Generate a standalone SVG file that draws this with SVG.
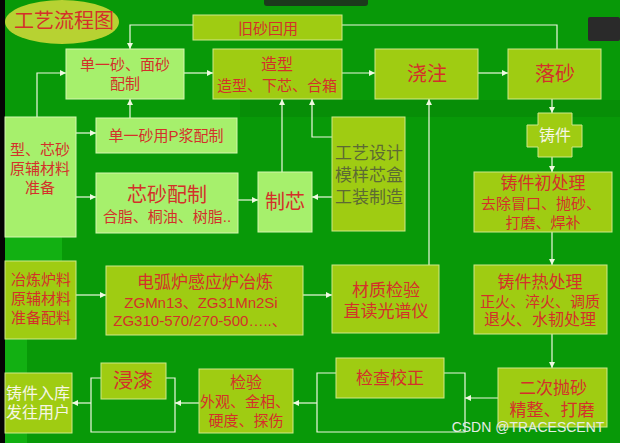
<svg xmlns="http://www.w3.org/2000/svg" width="620" height="443" viewBox="0 0 620 443">
<defs>
<marker id="ah" viewBox="0 0 6 6" refX="6" refY="3" markerWidth="6" markerHeight="6" markerUnits="userSpaceOnUse" orient="auto">
<path d="M0,0 L6,3 L0,6 z" fill="#eef8e0"/>
</marker>
</defs>
<style>
.lg{fill:#a6f06c;stroke:#d6f6b0;stroke-width:1}
.yg{fill:#9fcc12;stroke:#d0e88a;stroke-width:1}
text{font-family:"Liberation Sans","Noto Sans CJK SC",sans-serif;text-anchor:middle;dominant-baseline:central;fill:#d4302a}
.wt{fill:#f6f6e4}
.gy{fill:#5c6a34}
#connectors path{fill:none;stroke:#eef8e0;stroke-width:1.2}
.ar{marker-end:url(#ah)}
</style>
<rect x="0" y="0" width="620" height="443" fill="#089908"/>
<rect x="240" y="100" width="380" height="17" fill="#078e07"/>
<rect x="5" y="237" width="22" height="206" fill="#12b012"/>
<rect x="5" y="237" width="57" height="24" fill="#12b012"/>
<rect x="0" y="0" width="5" height="443" fill="#050505"/>
<rect x="264" y="-6" width="104" height="12" rx="3" fill="#1c3a1c"/>
<rect x="588" y="17" width="32" height="24" rx="2" fill="#2a2a2a"/>

<g id="title">
<ellipse cx="62" cy="22" rx="57" ry="22" fill="#b7d232"/>
<text x="64" y="21" font-size="20">工艺流程图</text>
</g>

<g id="connectors">
<path d="M557,49 V25 H130 V49" class="ar"/>
<path d="M37,117 V73 H66" class="ar"/>
<path d="M130,118 V99" class="ar"/>
<path d="M184,73 H213" class="ar"/>
<path d="M342,73 H375" class="ar"/>
<path d="M478,73 H508" class="ar"/>
<path d="M552,99 V113" class="ar"/>
<path d="M552,157 V172" class="ar"/>
<path d="M552,232 V265" class="ar"/>
<path d="M552,334 V368" class="ar"/>
<path d="M76,133 H96" class="ar"/>
<path d="M76,197 H96" class="ar"/>
<path d="M238,200 H258" class="ar"/>
<path d="M332,197 H312" class="ar"/>
<path d="M282,172 V99" class="ar"/>
<path d="M332,137 H312 V99" class="ar"/>
<path d="M429,265 V99" class="ar"/>
<path d="M76,295 H106" class="ar"/>
<path d="M303,295 H332" class="ar"/>
<path d="M498,398 H465" class="ar"/>
<path d="M444,373 H465 V432 H317 V373 H336"/>
<path d="M317,403 H293" class="ar"/>
<path d="M199,403 H175" class="ar"/>
<path d="M166,378 H175 V432 H91 V378 H101"/>
<path d="M91,403 H72" class="ar"/>
</g>

<g id="jiusha">
<rect class="yg" x="193" y="15" width="149" height="25"/>
<text x="268" y="28" font-size="15">旧砂回用</text>
</g>
<g id="danyisha">
<rect class="lg" x="66" y="49" width="118" height="50"/>
<text x="125" y="64" font-size="15">单一砂、面砂</text>
<text x="125" y="83" font-size="15">配制</text>
</g>
<g id="zaoxing">
<rect class="yg" x="213" y="49" width="129" height="50"/>
<text x="277" y="64" font-size="16">造型</text>
<text x="277" y="85" font-size="15">造型、下芯、合箱</text>
</g>
<g id="jiaozhu">
<rect class="yg" x="375" y="49" width="103" height="50"/>
<text x="427" y="74" font-size="20">浇注</text>
</g>
<g id="luosha">
<rect class="yg" x="508" y="49" width="93" height="50"/>
<text x="555" y="74" font-size="20">落砂</text>
</g>
<g id="zhujian">
<polygon class="yg" points="538,113 572,113 572,125 582,125 582,147 572,147 572,157 538,157 538,147 527,147 527,125 538,125"/>
<text class="wt" x="555" y="135" font-size="16">铸件</text>
</g>
<g id="yuanfu">
<rect class="lg" x="5" y="117" width="71" height="120"/>
<text x="40" y="149" font-size="15">型、芯砂</text>
<text x="40" y="168" font-size="15">原辅材料</text>
<text x="40" y="187" font-size="15">准备</text>
</g>
<g id="pjiang">
<rect class="lg" x="96" y="118" width="141" height="35"/>
<text x="166" y="135" font-size="15">单一砂用P浆配制</text>
</g>
<g id="xinsha">
<rect class="lg" x="96" y="173" width="142" height="60"/>
<text x="167" y="195" font-size="20">芯砂配制</text>
<text x="167" y="216" font-size="15">合脂、桐油、树脂..</text>
</g>
<g id="zhixin">
<rect class="lg" x="258" y="172" width="54" height="60"/>
<text x="285" y="202" font-size="20">制芯</text>
</g>
<g id="gongyi">
<rect class="yg" x="332" y="117" width="73" height="114"/>
<text class="gy" x="369" y="153" font-size="17">工艺设计</text>
<text class="gy" x="369" y="175" font-size="17">模样芯盒</text>
<text class="gy" x="369" y="197" font-size="17">工装制造</text>
</g>
<g id="chuchuli">
<rect class="yg" x="474" y="172" width="138" height="60"/>
<text x="543" y="183" font-size="17">铸件初处理</text>
<text x="541" y="203" font-size="15">去除冒口、抛砂、</text>
<text x="543" y="222" font-size="15">打磨、焊补</text>
</g>
<g id="yelian">
<rect class="yg" x="5" y="261" width="71" height="78"/>
<text x="41" y="279" font-size="15">冶炼炉料</text>
<text x="41" y="298" font-size="15">原辅材料</text>
<text x="41" y="317" font-size="15">准备配料</text>
</g>
<g id="dianhu">
<rect class="yg" x="106" y="266" width="197" height="69"/>
<text x="205" y="282" font-size="17">电弧炉感应炉冶炼</text>
<text x="201" y="302" font-size="15">ZGMn13、ZG31Mn2Si</text>
<text x="200" y="320" font-size="15">ZG310-570/270-500…..、</text>
</g>
<g id="caizhi">
<rect class="yg" x="332" y="265" width="107" height="68"/>
<text x="386" y="290" font-size="17">材质检验</text>
<text x="386" y="311" font-size="17">直读光谱仪</text>
</g>
<g id="rechuli">
<rect class="yg" x="474" y="265" width="133" height="69"/>
<text x="540" y="282" font-size="17">铸件热处理</text>
<text x="540" y="301" font-size="15">正火、淬火、调质</text>
<text x="540" y="319" font-size="16">退火、水韧处理</text>
</g>
<g id="erci">
<rect class="yg" x="498" y="368" width="109" height="59"/>
<text x="553" y="388" font-size="17">二次抛砂</text>
<text x="552" y="410" font-size="17">精整、打磨</text>
</g>
<g id="jiancha">
<rect class="yg" x="336" y="358" width="108" height="40"/>
<text x="390" y="378" font-size="17">检查校正</text>
</g>
<g id="jianyan">
<rect class="yg" x="199" y="369" width="94" height="64"/>
<text x="246" y="382" font-size="16">检验</text>
<text x="245" y="401" font-size="15">外观、金相、</text>
<text x="246" y="420" font-size="15">硬度、探伤</text>
</g>
<g id="jinqi">
<rect class="yg" x="101" y="363" width="65" height="36"/>
<text x="133" y="381" font-size="20">浸漆</text>
</g>
<g id="ruku">
<rect class="yg" x="5" y="373" width="67" height="60"/>
<text class="wt" x="38" y="393" font-size="16">铸件入库</text>
<text class="wt" x="38" y="412" font-size="16">发往用户</text>
</g>
<text x="528" y="427" font-size="14" style="fill:#e6ece6">CSDN @TRACESCENT</text>
</svg>
